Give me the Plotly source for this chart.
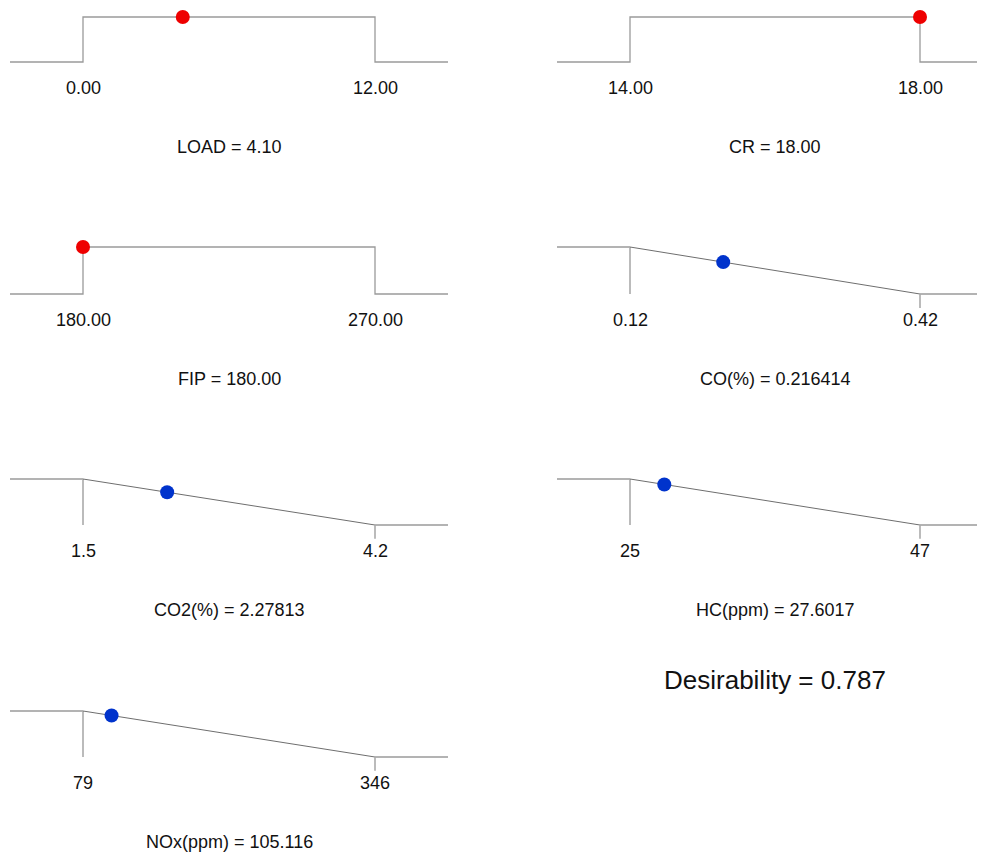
import plotly.graph_objects as go

# ---- data ----
names = ["LOAD", "CR", "FIP", "CO(%)", "CO2(%)", "HC(ppm)", "NOx(ppm)"]
lows = [0.00, 14.00, 180.00, 0.12, 1.5, 25, 79]
highs = [12.00, 18.00, 270.00, 0.42, 4.2, 47, 346]
low_labels = ["0.00", "14.00", "180.00", "0.12", "1.5", "25", "79"]
high_labels = ["12.00", "18.00", "270.00", "0.42", "4.2", "47", "346"]
values = [4.10, 18.00, 180.00, 0.216414, 2.27813, 27.6017, 105.116]
value_labels = ["4.10", "18.00", "180.00", "0.216414", "2.27813", "27.6017", "105.116"]
goals = ["range", "range", "range", "minimize", "minimize", "minimize", "minimize"]
desirability_text = "Desirability = 0.787"

# ---- layout geometry (pixels in the reference picture; page body adds 8px offset) ----
OFF = 8
W, H = 985 - OFF, 853 - OFF
cols = [dict(px_lo=83, px_hi=375, dl=10, dr=448), dict(px_lo=630, px_hi=920, dl=557, dr=985)]
row_d1 = [17, 247, 479, 711]
row_d0 = [62, 294, 525, 757]
pad_top, pad_bot = 8, 22
FONT = "Liberation Sans, Arial, sans-serif"
LINE = "#9a9a9a"
SLANT = "#6e6e6e"


def fx(px):
    return (px - OFF) / W


def fy(py):
    return 1 - (py - OFF) / H


fig = go.Figure()
layout = {}
annotations = []

for i, name in enumerate(names):
    r, c = divmod(i, 2)
    col = cols[c]
    lo, hi, v = lows[i], highs[i], values[i]
    R = hi - lo
    span = col["px_hi"] - col["px_lo"]
    xr = [lo - (col["px_lo"] - col["dl"]) / span * R, hi + (col["dr"] - col["px_hi"]) / span * R]
    d1, d0 = row_d1[r], row_d0[r]
    ppu = d0 - d1
    ytop, ybot = d1 - pad_top, d0 + pad_bot
    yr = [-(ybot - d0) / ppu, 1 + (d1 - ytop) / ppu]
    ax = "" if i == 0 else str(i + 1)
    xa, ya = "x" + ax, "y" + ax
    layout["xaxis" + ax] = dict(domain=[max(0, fx(col["dl"])), min(1, fx(col["dr"]))], range=xr,
                                visible=False, anchor=ya, fixedrange=True)
    layout["yaxis" + ax] = dict(domain=[fy(ybot), min(1, fy(ytop))], range=yr, visible=False,
                                anchor=xa, fixedrange=True)
    if goals[i] == "range":
        fig.add_trace(go.Scatter(x=[xr[0], lo, lo, hi, hi, xr[1]], y=[0, 0, 1, 1, 0, 0],
                                 mode="lines", line=dict(color=LINE, width=1.3),
                                 xaxis=xa, yaxis=ya, showlegend=False, hoverinfo="skip",
                                 cliponaxis=False))
        d = 1.0
        color = "#ee0000"
    else:
        fig.add_trace(go.Scatter(x=[xr[0], lo], y=[1, 1], mode="lines",
                                 line=dict(color=LINE, width=1.3),
                                 xaxis=xa, yaxis=ya, showlegend=False, hoverinfo="skip"))
        fig.add_trace(go.Scatter(x=[lo, lo], y=[1, 0], mode="lines",
                                 line=dict(color="#aaaaaa", width=1.6),
                                 xaxis=xa, yaxis=ya, showlegend=False, hoverinfo="skip"))
        fig.add_trace(go.Scatter(x=[lo, hi], y=[1, 0], mode="lines",
                                 line=dict(color=SLANT, width=1),
                                 xaxis=xa, yaxis=ya, showlegend=False, hoverinfo="skip"))
        fig.add_trace(go.Scatter(x=[hi, xr[1]], y=[0, 0], mode="lines",
                                 line=dict(color=LINE, width=1.3),
                                 xaxis=xa, yaxis=ya, showlegend=False, hoverinfo="skip"))
        fig.add_trace(go.Scatter(x=[hi, hi], y=[0, -0.3], mode="lines",
                                 line=dict(color="#aaaaaa", width=1.6),
                                 xaxis=xa, yaxis=ya, showlegend=False, hoverinfo="skip"))
        d = (hi - v) / (hi - lo)
        color = "#0033cc"
    fig.add_trace(go.Scatter(x=[v], y=[d], mode="markers",
                             marker=dict(color=color, size=14, line=dict(width=0)),
                             xaxis=xa, yaxis=ya, showlegend=False, cliponaxis=False))
    for xv, txt in ((lo, low_labels[i]), (hi, high_labels[i])):
        annotations.append(dict(x=xv, xref=xa, y=fy(d0 + 26), yref="paper", text=txt,
                                showarrow=False, xanchor="center", yanchor="middle",
                                font=dict(family=FONT, size=18, color="#111111")))
    annotations.append(dict(x=(lo + hi) / 2, xref=xa, y=fy(d0 + 85), yref="paper",
                            text=f"{name} = {value_labels[i]}", showarrow=False,
                            xanchor="center", yanchor="middle",
                            font=dict(family=FONT, size=18, color="#111111")))

annotations.append(dict(x=fx(775), xref="paper", y=fy(680), yref="paper", text=desirability_text,
                        showarrow=False, xanchor="center", yanchor="middle",
                        font=dict(family=FONT, size=26, color="#111111")))

fig.update_layout(width=W, height=H, margin=dict(l=0, r=0, t=0, b=0),
                  paper_bgcolor="white", plot_bgcolor="white",
                  annotations=annotations, **layout)
fig.write_html("out.html")
